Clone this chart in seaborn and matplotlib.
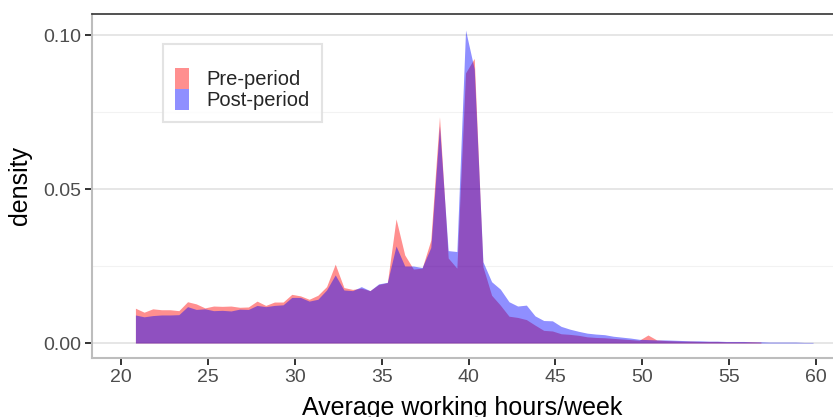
import numpy as np
import pandas as pd
import matplotlib
matplotlib.use("Agg")
import matplotlib.pyplot as plt
import seaborn as sns
from matplotlib.patches import Patch
from matplotlib.ticker import MultipleLocator

# hours grid (polygon vertices)
hours = [20.83, 21.33, 21.83, 22.33, 22.83, 23.33, 23.83, 24.33, 24.83, 25.33,
         25.83, 26.33, 26.83, 27.33, 27.83, 28.33, 28.83, 29.33, 29.83, 30.33,
         30.83, 31.33, 31.83, 32.33, 32.83, 33.33, 33.83, 34.33, 34.83, 35.33,
         35.83, 36.33, 36.83, 37.33, 37.83, 38.33, 38.83, 39.33, 39.83, 40.33,
         40.83, 41.33, 41.83, 42.33, 42.83, 43.33, 43.83, 44.33, 44.83, 45.33,
         45.83, 46.33, 46.83, 47.33, 47.83, 48.33, 48.83, 49.33, 49.83, 50.33,
         50.83, 51.33, 51.83, 52.33, 52.83, 53.33, 53.83, 54.33, 54.83, 55.33,
         55.83, 56.33, 56.83, 57.33, 57.83, 58.33, 58.83, 59.33, 59.83]

pre_density = [0.0113, 0.0100, 0.0111, 0.0108, 0.0108, 0.0105, 0.0134, 0.0127, 0.0114, 0.0120,
               0.0119, 0.0120, 0.0116, 0.0117, 0.0136, 0.0122, 0.0133, 0.0133, 0.0158, 0.0153,
               0.0142, 0.0155, 0.0183, 0.0256, 0.0180, 0.0174, 0.0178, 0.0170, 0.0190, 0.0196,
               0.0403, 0.0286, 0.0240, 0.0243, 0.0334, 0.0735, 0.0276, 0.0243, 0.0877, 0.0924,
               0.0248, 0.0155, 0.0123, 0.0087, 0.0083, 0.0076, 0.0058, 0.0041, 0.0039, 0.0030,
               0.0028, 0.0025, 0.0020, 0.0018, 0.0017, 0.0015, 0.0013, 0.0011, 0.0009, 0.0026,
               0.0010, 0.0008, 0.0007, 0.0006, 0.0006, 0.0005, 0.0005, 0.0005, 0.0004, 0.0004,
               0.0004, 0.0004, 0.0003]

post_density = [0.0091, 0.0085, 0.0089, 0.0091, 0.0091, 0.0092, 0.0118, 0.0109, 0.0111, 0.0105,
                0.0106, 0.0104, 0.0110, 0.0109, 0.0122, 0.0118, 0.0122, 0.0124, 0.0148, 0.0148,
                0.0136, 0.0142, 0.0172, 0.0221, 0.0172, 0.0170, 0.0183, 0.0170, 0.0192, 0.0197,
                0.0315, 0.0250, 0.0250, 0.0245, 0.0310, 0.0705, 0.0300, 0.0297, 0.1016, 0.0890,
                0.0264, 0.0199, 0.0175, 0.0134, 0.0120, 0.0123, 0.0088, 0.0073, 0.0072, 0.0054,
                0.0045, 0.0038, 0.0032, 0.0029, 0.0027, 0.0022, 0.0019, 0.0016, 0.0012, 0.0011,
                0.0010, 0.0010, 0.0009, 0.0008, 0.0007, 0.0007, 0.0006, 0.0006, 0.0005, 0.0005,
                0.0005, 0.0004, 0.0004, 0.0003, 0.0003, 0.0003, 0.0003, 0.0002, 0.0002]

labels = ["Pre-period", "Post-period"]
colors = ["red", "blue"]

pre = pd.DataFrame({"hours": hours[:len(pre_density)], "density": pre_density})
post = pd.DataFrame({"hours": hours, "density": post_density})

sns.set_theme(style="white")
plt.rcParams['font.family'] = ['Liberation Sans', 'DejaVu Sans']

fig = plt.figure(figsize=(8.33, 4.17), dpi=100)
ax = fig.add_axes([92 / 833, 1 - 357.5 / 417, 1 - 92 / 833, (357.5 - 14) / 417])

# pre first, post drawn on top (overlap comes out blue-purple)
for df, c in zip([pre, post], colors):
    ax.fill_between(df["hours"], 0, df["density"], color=c, alpha=0.44, lw=0, zorder=3)

ax.set_xlim(20 + (92 - 121) / 17.375, 20 + (833 - 121) / 17.375)
ax.set_ylim((343 - 357.5) / 3080, (343 - 14) / 3080)
ax.set_xticks([20, 25, 30, 35, 40, 45, 50, 55, 60])
ax.set_yticks([0.0, 0.05, 0.10])
ax.set_yticklabels(["0.00", "0.05", "0.10"])
ax.yaxis.set_minor_locator(MultipleLocator(0.025))

ax.grid(axis="y", which="major", color="#e6e6e6", lw=1.4, zorder=0)
ax.grid(axis="y", which="minor", color="#f2f2f2", lw=0.8, zorder=0)
ax.grid(axis="x", visible=False)
ax.set_axisbelow(True)

ax.tick_params(axis="both", which="major", length=5, width=1.4, color="#333333",
               labelsize=14, labelcolor="#4d4d4d", pad=3, left=True, bottom=True)
ax.tick_params(axis="y", which="minor", length=0)

ax.spines["right"].set_visible(False)
ax.spines["top"].set_color("#333333")
ax.spines["top"].set_linewidth(1.2)
for s in ["left", "bottom"]:
    ax.spines[s].set_color("#bdbdbd")
    ax.spines[s].set_linewidth(1.5)

ax.set_xlabel("Average working hours/week", fontsize=18, color="black", labelpad=7.5)
ax.set_ylabel("density", fontsize=18, color="black", labelpad=8)

handles = [Patch(facecolor=c, alpha=0.44, edgecolor="none") for c in colors]
leg = ax.legend(handles, labels, title=" ", title_fontsize=9, fontsize=14.5,
                loc="upper left", bbox_to_anchor=((163 - 92) / 741, (357.5 - 44) / 343.5),
                frameon=True, fancybox=False, handlelength=0.7, handleheight=1.2,
                handletextpad=0.85, labelspacing=0.0, borderpad=0.6, borderaxespad=0)
leg.get_frame().set_edgecolor("#dddddd")
leg.get_frame().set_linewidth(1.5)

fig.savefig("out.png", dpi=100)
